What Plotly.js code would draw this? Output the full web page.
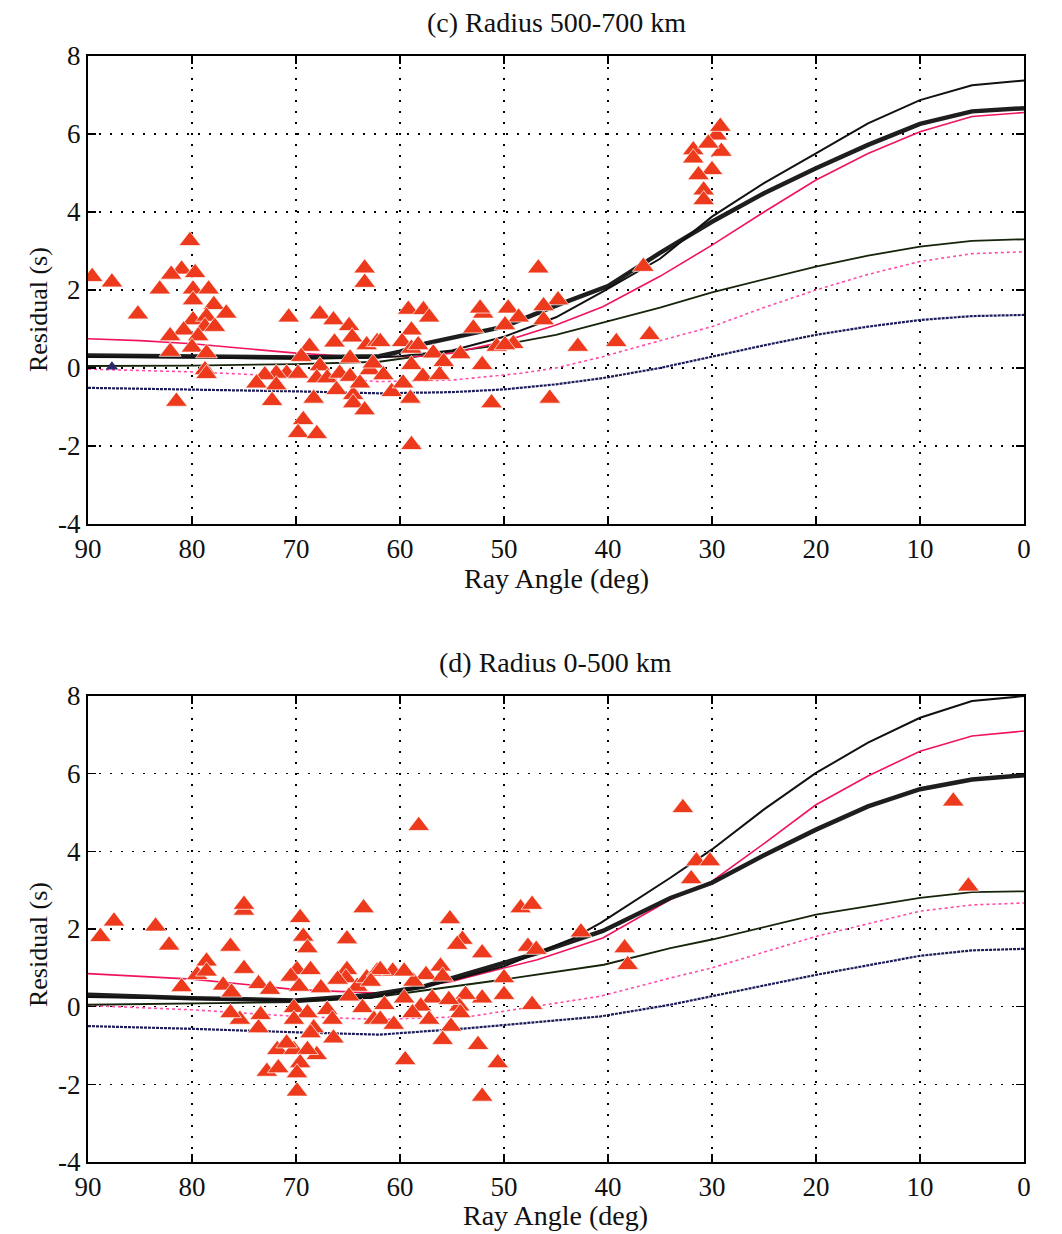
<!DOCTYPE html>
<html><head><meta charset="utf-8">
<script src="https://cdn.plot.ly/plotly-3.0.1.min.js"></script>
<style>body{margin:0;background:#fff}#chart{width:1062px;height:1234px}</style>
</head><body><div id="chart"></div>
<script>
// ---------- Panel (c) Radius 500-700 km ----------
const cThinX  = [90,80,70,63,60,55,50,45,40.5,35,30,25,20,15,10,5,0];
const cThinY  = [0.28,0.27,0.24,0.26,0.3,0.45,0.8,1.3,1.96,2.8,3.88,4.74,5.5,6.27,6.87,7.25,7.37];
const cThickX = [90,80,70,62,60,57.5,55,50,45,40,35,30,25,20,15,10,5,0];
const cThickY = [0.32,0.3,0.27,0.3,0.42,0.63,0.78,1.06,1.6,2.1,2.95,3.75,4.48,5.12,5.72,6.26,6.58,6.66];
const cRedX   = [90,85,80,75,70,65,62,58,55,50,48.5,45,40.5,35,30,25,20,15,10,5,0];
const cRedY   = [0.75,0.7,0.62,0.5,0.38,0.3,0.29,0.3,0.38,0.68,0.8,1.1,1.57,2.35,3.15,4.0,4.82,5.5,6.06,6.45,6.55];
const cOliveX = [90,80,70,62,55,50,45,40,35,30,25,20,15,10,5,0];
const cOliveY = [0.05,0.06,0.1,0.16,0.42,0.6,0.85,1.2,1.55,1.94,2.28,2.6,2.88,3.11,3.26,3.3];
const cPinkX  = [90,80,70,62,55,48.5,45,40.5,35,30,25,20,15,10,5,0];
const cPinkY  = [-0.03,-0.1,-0.22,-0.35,-0.31,-0.14,0.0,0.29,0.7,1.06,1.55,2.0,2.4,2.73,2.93,2.98];
const cNavyX  = [90,80,70,62,55,50,45,40.5,35,30,25,20,15,10,5,0];
const cNavyY  = [-0.51,-0.55,-0.6,-0.65,-0.62,-0.55,-0.42,-0.26,0.0,0.29,0.58,0.85,1.06,1.23,1.33,1.36];
const cObsAngle = [89.6,87.7,80.2,81.0,82.0,79.7,83.1,85.2,79.9,78.4,79.9,77.9,76.7,79.9,78.6,78.75,77.8,80.8,82.1,79.4,80.0,82.1,78.6,78.75,78.6,81.5,
  63.4,63.4,70.7,67.7,66.4,64.9,64.6,68.7,66.3,63.2,62.2,69.5,67.7,70.9,69.8,71.9,73.0,73.8,71.9,72.3,68.3,69.3,69.8,68.0,68.0,67.0,66.1,65.8,64.8,64.5,64.5,63.4,63.85,62.9,64.8,62.6,
  46.7,44.8,46.2,46.2,49.6,48.6,49.9,49.1,50.7,52.0,52.95,52.3,42.9,39.2,36.0,36.6,45.6,51.2,58.9,59.2,57.75,57.2,58.9,61.9,59.8,58.9,58.25,56.8,54.2,55.8,58.9,52.1,61.6,57.8,56.2,60.8,59.0,59.7,49.9,
  31.8,31.8,29.55,29.2,29.1,30.0,31.3,30.8,30.8,30.35];
const cObsResid = [2.34,2.2,3.26,2.53,2.4,2.44,2.02,1.38,2.02,2.02,1.74,1.62,1.4,1.23,1.32,1.06,1.06,0.97,0.82,0.82,0.53,0.42,0.38,-0.05,-0.15,-0.86,
  2.56,2.19,1.3,1.38,1.23,1.08,0.79,0.55,0.66,0.59,0.67,0.29,0.05,-0.14,-0.14,-0.14,-0.18,-0.39,-0.44,-0.84,-0.78,-1.33,-1.66,-1.69,-0.26,-0.26,-0.56,-0.14,-0.22,-0.69,-0.9,-1.08,-0.39,-0.05,0.25,0.12,
  2.56,1.74,1.59,1.23,1.53,1.3,1.1,0.62,0.55,1.4,1.02,1.53,0.55,0.67,0.85,2.6,-0.78,-0.9,-1.97,1.5,1.49,1.3,0.97,0.67,0.67,0.5,0.59,0.38,0.36,0.16,0.08,0.08,-0.18,-0.22,-0.18,-0.61,-0.78,-0.39,0.59,
  5.59,5.38,5.97,6.19,5.55,5.08,4.95,4.56,4.31,5.76];
const cOtherAngle = [87.7];
const cOtherResid = [0.03];

// ---------- Panel (d) Radius 0-500 km ----------
const dThinX  = [90,80,70,62.8,55,50,43.6,40.7,34,30,25,20,15,10,5,0];
const dThinY  = [0.25,0.2,0.16,0.23,0.68,1.04,1.73,2.16,3.32,4.05,5.08,6.02,6.8,7.44,7.87,8.0];
const dThickX = [90,80,70,62.8,57.7,53.2,46.8,40.5,34,30,25,20,15,10,5,0];
const dThickY = [0.31,0.22,0.16,0.3,0.52,0.87,1.38,1.95,2.8,3.19,3.9,4.56,5.16,5.6,5.85,5.96];
const dRedX   = [90,80,70,62,55,53.2,46.8,40.5,34,30,25,20,15,10,5,0];
const dRedY   = [0.85,0.71,0.44,0.35,0.65,0.78,1.21,1.77,2.76,3.23,4.2,5.2,5.94,6.58,6.97,7.1];
const dOliveX = [90,80,70,62.8,50,40.4,34,30,20,10,5,0];
const dOliveY = [0.05,0.08,0.12,0.23,0.7,1.08,1.51,1.73,2.37,2.8,2.95,2.97];
const dPinkX  = [90,80,70,62,53.2,43.6,40.7,34,30,20,10,5,0];
const dPinkY  = [0.03,-0.08,-0.25,-0.33,-0.25,0.14,0.27,0.74,1.0,1.81,2.46,2.62,2.67];
const dNavyX  = [90,80,70,62,53.2,43.6,40.7,34,30,20,10,5,0];
const dNavyY  = [-0.5,-0.57,-0.66,-0.72,-0.55,-0.32,-0.25,0.05,0.27,0.82,1.31,1.45,1.49];
const dObsAngle = [88.8,87.5,83.5,82.2,75.0,75.0,76.3,78.6,79.5,81.0,75.0,77.0,76.2,73.6,72.5,75.4,76.3,73.4,73.6,69.6,69.3,68.9,69.9,68.6,70.5,67.6,65.1,65.1,65.2,63.5,64.1,63.2,62.2,70.2,68.9,67.0,70.2,68.3,66.5,68.6,66.4,63.6,62.5,64.9,71.8,70.2,68.0,68.9,70.9,72.8,71.7,69.6,69.9,69.9,78.6,69.7,66.0,
  58.2,55.2,54.0,54.5,52.1,48.4,47.3,47.7,46.9,42.6,50.0,50.0,47.3,52.1,53.7,54.3,54.2,55.1,55.9,52.5,50.6,52.1,59.5,56.1,57.5,58.7,60.7,61.9,59.6,56.9,58.0,55.3,59.6,61.5,61.9,60.6,57.2,58.8,62.8,55.9,38.4,38.1,
  32.8,31.5,30.2,32.0,6.8,5.35];
const dObsResid = [1.8,2.2,2.07,1.58,2.48,2.63,1.55,1.17,0.82,0.51,0.98,0.55,0.37,0.59,0.44,-0.33,-0.16,-0.21,-0.55,2.29,1.81,1.51,0.95,0.95,0.78,0.48,1.74,0.95,0.74,2.54,0.52,0.74,0.91,-0.03,-0.16,-0.08,-0.33,-0.55,-0.33,-0.68,-0.81,-0.03,-0.33,0.27,-1.11,-1.11,-1.24,-1.11,-0.94,-1.67,-1.58,-1.45,-1.71,-2.18,0.91,0.52,0.7,
  4.66,2.26,1.73,1.6,1.38,2.54,2.63,1.55,1.47,1.92,0.74,0.31,0.05,0.22,0.31,0.01,-0.16,-0.51,-0.85,-0.98,-1.45,-2.31,-1.37,1.04,0.82,0.65,0.91,0.95,0.91,0.22,0.01,0.18,0.22,0.05,-0.33,-0.46,-0.33,-0.16,0.65,0.78,1.51,1.08,
  5.12,3.75,3.75,3.29,5.29,3.1];

const xTicks = [90,80,70,60,50,40,30,20,10,0];
const xTickText = ['90','80','70','60','50','40','30','20','10','0'];
const yTicks = [-4,-2,0,2,4,6,8];
const yTickText = ['-4','-2','0','2','4','6','8'];

const FONT = '"Liberation Serif", "Times New Roman", serif';

function curves(xa, ya, set) {
  return [
    {x:set[4][0], y:set[4][1], mode:'lines', line:{color:'#ff4da6', width:1.6, dash:'dot'}, xaxis:xa, yaxis:ya},
    {x:set[5][0], y:set[5][1], mode:'lines', line:{color:'#1c1c5a', width:2.2, dash:'3px,1px'}, xaxis:xa, yaxis:ya},
    {x:set[3][0], y:set[3][1], mode:'lines', line:{color:'#16240a', width:1.8}, xaxis:xa, yaxis:ya},
    {x:set[2][0], y:set[2][1], mode:'lines', line:{color:'#f0145a', width:1.6}, xaxis:xa, yaxis:ya},
    {x:set[1][0], y:set[1][1], mode:'lines', line:{color:'#1e1e1e', width:4.5}, xaxis:xa, yaxis:ya},
    {x:set[0][0], y:set[0][1], mode:'lines', line:{color:'#111', width:2}, xaxis:xa, yaxis:ya}
  ];
}
const tri = {symbol:'triangle-up', size:19, color:'#ee3a1c', line:{color:'#ffffff', width:0.7}};

const traces = [].concat(
  curves('x','y', [[cThinX,cThinY],[cThickX,cThickY],[cRedX,cRedY],[cOliveX,cOliveY],[cPinkX,cPinkY],[cNavyX,cNavyY]]),
  [{x:cObsAngle, y:cObsResid, mode:'markers', marker:tri, xaxis:'x', yaxis:'y'},
   {x:cOtherAngle, y:cOtherResid, mode:'markers', marker:{symbol:'triangle-up', size:11, color:'#2a2a6a'}, xaxis:'x', yaxis:'y'}],
  curves('x2','y2', [[dThinX,dThinY],[dThickX,dThickY],[dRedX,dRedY],[dOliveX,dOliveY],[dPinkX,dPinkY],[dNavyX,dNavyY]]),
  [{x:dObsAngle, y:dObsResid, mode:'markers', marker:tri, xaxis:'x2', yaxis:'y2'}]
);

function xax(anchor) {
  return {anchor:anchor, range:[90,0], tickvals:xTicks, ticktext:xTickText, ticks:'inside', ticklen:8, tickwidth:1.2,
    tickcolor:'#000', showline:true, linecolor:'#000', linewidth:2, mirror:'ticks', showgrid:true, gridcolor:'#000',
    gridwidth:1.5, griddash:'2px,9px', zeroline:false, tickfont:{family:FONT, size:27, color:'#111'}};
}
function yax(anchor, domain) {
  return {anchor:anchor, domain:domain, range:[-4,8], tickvals:yTicks, ticktext:yTickText, ticks:'inside', ticklen:8, tickwidth:1.2,
    tickcolor:'#000', showline:true, linecolor:'#000', linewidth:2, mirror:'ticks', showgrid:true, gridcolor:'#000',
    gridwidth:1.5, griddash:'2px,9px', zeroline:false, tickfont:{family:FONT, size:27, color:'#111'}};
}
function note(text, x, y, angle, size) {
  return {text:text, xref:'paper', yref:'paper', x:x, y:y, xanchor:'center', yanchor:'middle', textangle:angle,
    showarrow:false, font:{family:FONT, size:size, color:'#111'}};
}

const layout = {
  width:1062, height:1234, showlegend:false,
  paper_bgcolor:'#fff', plot_bgcolor:'#fff',
  margin:{l:88, r:38, t:56, b:72},
  xaxis: xax('y'),
  yaxis: yax('x', [0.5769, 1]),
  xaxis2: xax('y2'),
  yaxis2: yax('x2', [0, 0.4213]),
  annotations:[
    note('(c) Radius 500-700 km', 0.501, 1.0307, 0, 28),
    note('(d) Radius 0-500 km', 0.499, 0.4512, 0, 28),
    note('Ray Angle (deg)', 0.501, 0.528, 0, 28),
    note('Ray Angle (deg)', 0.499, -0.0488, 0, 28),
    note('Residual (s)', -0.0534, 0.7703, -90, 26),
    note('Residual (s)', -0.0534, 0.1962, -90, 26)
  ]
};
Plotly.newPlot('chart', traces, layout, {staticPlot:true});
</script></body></html>
